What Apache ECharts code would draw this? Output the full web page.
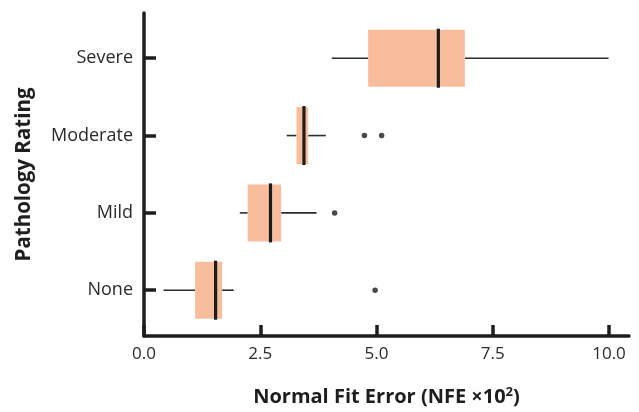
<!DOCTYPE html>
<html>
<head>
<meta charset="utf-8">
<script src="https://cdn.jsdelivr.net/npm/echarts@6/dist/echarts.min.js"></script>
<style>
html,body{margin:0;padding:0;background:#fff;}
#chart{width:639px;height:412px;}
</style>
</head>
<body>
<div id="chart"></div>
<script>
// ---- Data ----
const categories = ['None', 'Mild', 'Moderate', 'Severe'];
const whiskerLow  = [0.42, 2.06, 3.07, 4.04];
const q1          = [1.10, 2.23, 3.28, 4.82];
const median      = [1.54, 2.72, 3.44, 6.33];
const q3          = [1.68, 2.95, 3.53, 6.90];
const whiskerHigh = [1.93, 3.71, 3.91, 9.99];
const outlierValues     = [4.97, 4.10, 4.74, 5.11];
const outlierCategories = ['None', 'Mild', 'Moderate', 'Moderate'];
const xTickValues = [0, 2.5, 5, 7.5, 10];

// ---- Build series data ----
const boxData = categories.map((c, i) => [i + 1, whiskerLow[i], q1[i], median[i], q3[i], whiskerHigh[i]]);
const outlierData = outlierValues.map((v, i) => [v, categories.indexOf(outlierCategories[i]) + 1]);
const catPositions = categories.map((c, i) => i + 1);

const BOX_H = 57;
const FONT = '"Open Sans", "Noto Sans", sans-serif';

function renderBox(params, api) {
  const y = api.value(0);
  const pLo = api.coord([api.value(1), y]);
  const pQ1 = api.coord([api.value(2), y]);
  const pMed = api.coord([api.value(3), y]);
  const pQ3 = api.coord([api.value(4), y]);
  const pHi = api.coord([api.value(5), y]);
  const cy = pMed[1];
  const whiskerStyle = { stroke: '#2b2b2b', lineWidth: 1.6 };
  return {
    type: 'group',
    children: [
      { type: 'line', shape: { x1: pLo[0], y1: cy, x2: pQ1[0], y2: cy }, style: whiskerStyle },
      { type: 'line', shape: { x1: pQ3[0], y1: cy, x2: pHi[0], y2: cy }, style: whiskerStyle },
      { type: 'rect', shape: { x: pQ1[0], y: cy - BOX_H / 2, width: pQ3[0] - pQ1[0], height: BOX_H },
        style: { fill: '#F8BD9D', stroke: null } },
      { type: 'line', shape: { x1: pMed[0], y1: cy - BOX_H / 2 - 1, x2: pMed[0], y2: cy + BOX_H / 2 + 1 },
        style: { stroke: '#1c1c1c', lineWidth: 3.2 } }
    ]
  };
}

const chart = echarts.init(document.getElementById('chart'), null, { renderer: 'canvas' });
chart.setOption({
  animation: false,
  backgroundColor: '#ffffff',
  grid: { left: 144, right: 10, top: 13, bottom: 76, containLabel: false },
  xAxis: {
    type: 'value',
    min: 0,
    max: 10.43,
    splitLine: { show: false },
    axisLine: { show: true, lineStyle: { color: '#1e1e1e', width: 3.5 } },
    axisTick: { show: true, inside: true, length: 11, customValues: xTickValues,
      lineStyle: { color: '#1e1e1e', width: 3.5 } },
    axisLabel: { customValues: xTickValues, margin: 10, color: '#2a2a2a', fontSize: 17, fontFamily: FONT,
      formatter: v => Number(v).toFixed(1) },
    name: 'Normal Fit Error (NFE ×10{sup|2})',
    nameLocation: 'middle',
    nameGap: 50,
    nameTextStyle: {
      color: '#1e1e1e', fontSize: 20, fontWeight: 'bold', fontFamily: FONT,
      rich: { sup: { fontSize: 13, fontWeight: 'bold', fontFamily: FONT, color: '#1e1e1e', verticalAlign: 'top', padding: [0, 0, 9, 0] } }
    }
  },
  yAxis: {
    type: 'value',
    min: 0.408,
    max: 4.585,
    splitLine: { show: false },
    axisLine: { show: true, lineStyle: { color: '#1e1e1e', width: 3.5 } },
    axisTick: { show: true, inside: true, length: 12, customValues: catPositions,
      lineStyle: { color: '#1e1e1e', width: 3.5 } },
    axisLabel: { customValues: catPositions, margin: 11, color: '#2a2a2a', fontSize: 18, fontFamily: FONT,
      formatter: v => categories[Math.round(v) - 1] },
    name: 'Pathology Rating',
    nameLocation: 'middle',
    nameRotate: 90,
    nameGap: 109,
    nameTextStyle: { color: '#1e1e1e', fontSize: 20.5, fontWeight: 'bold', fontFamily: FONT }
  },
  series: [
    {
      type: 'custom',
      renderItem: renderBox,
      data: boxData,
      encode: { x: [1, 2, 3, 4, 5], y: 0 },
      z: 2
    },
    {
      type: 'scatter',
      data: outlierData,
      symbol: 'circle',
      symbolSize: 5.5,
      itemStyle: { color: '#1c1c1c' },
      z: 3
    }
  ]
});
</script>
</body>
</html>
